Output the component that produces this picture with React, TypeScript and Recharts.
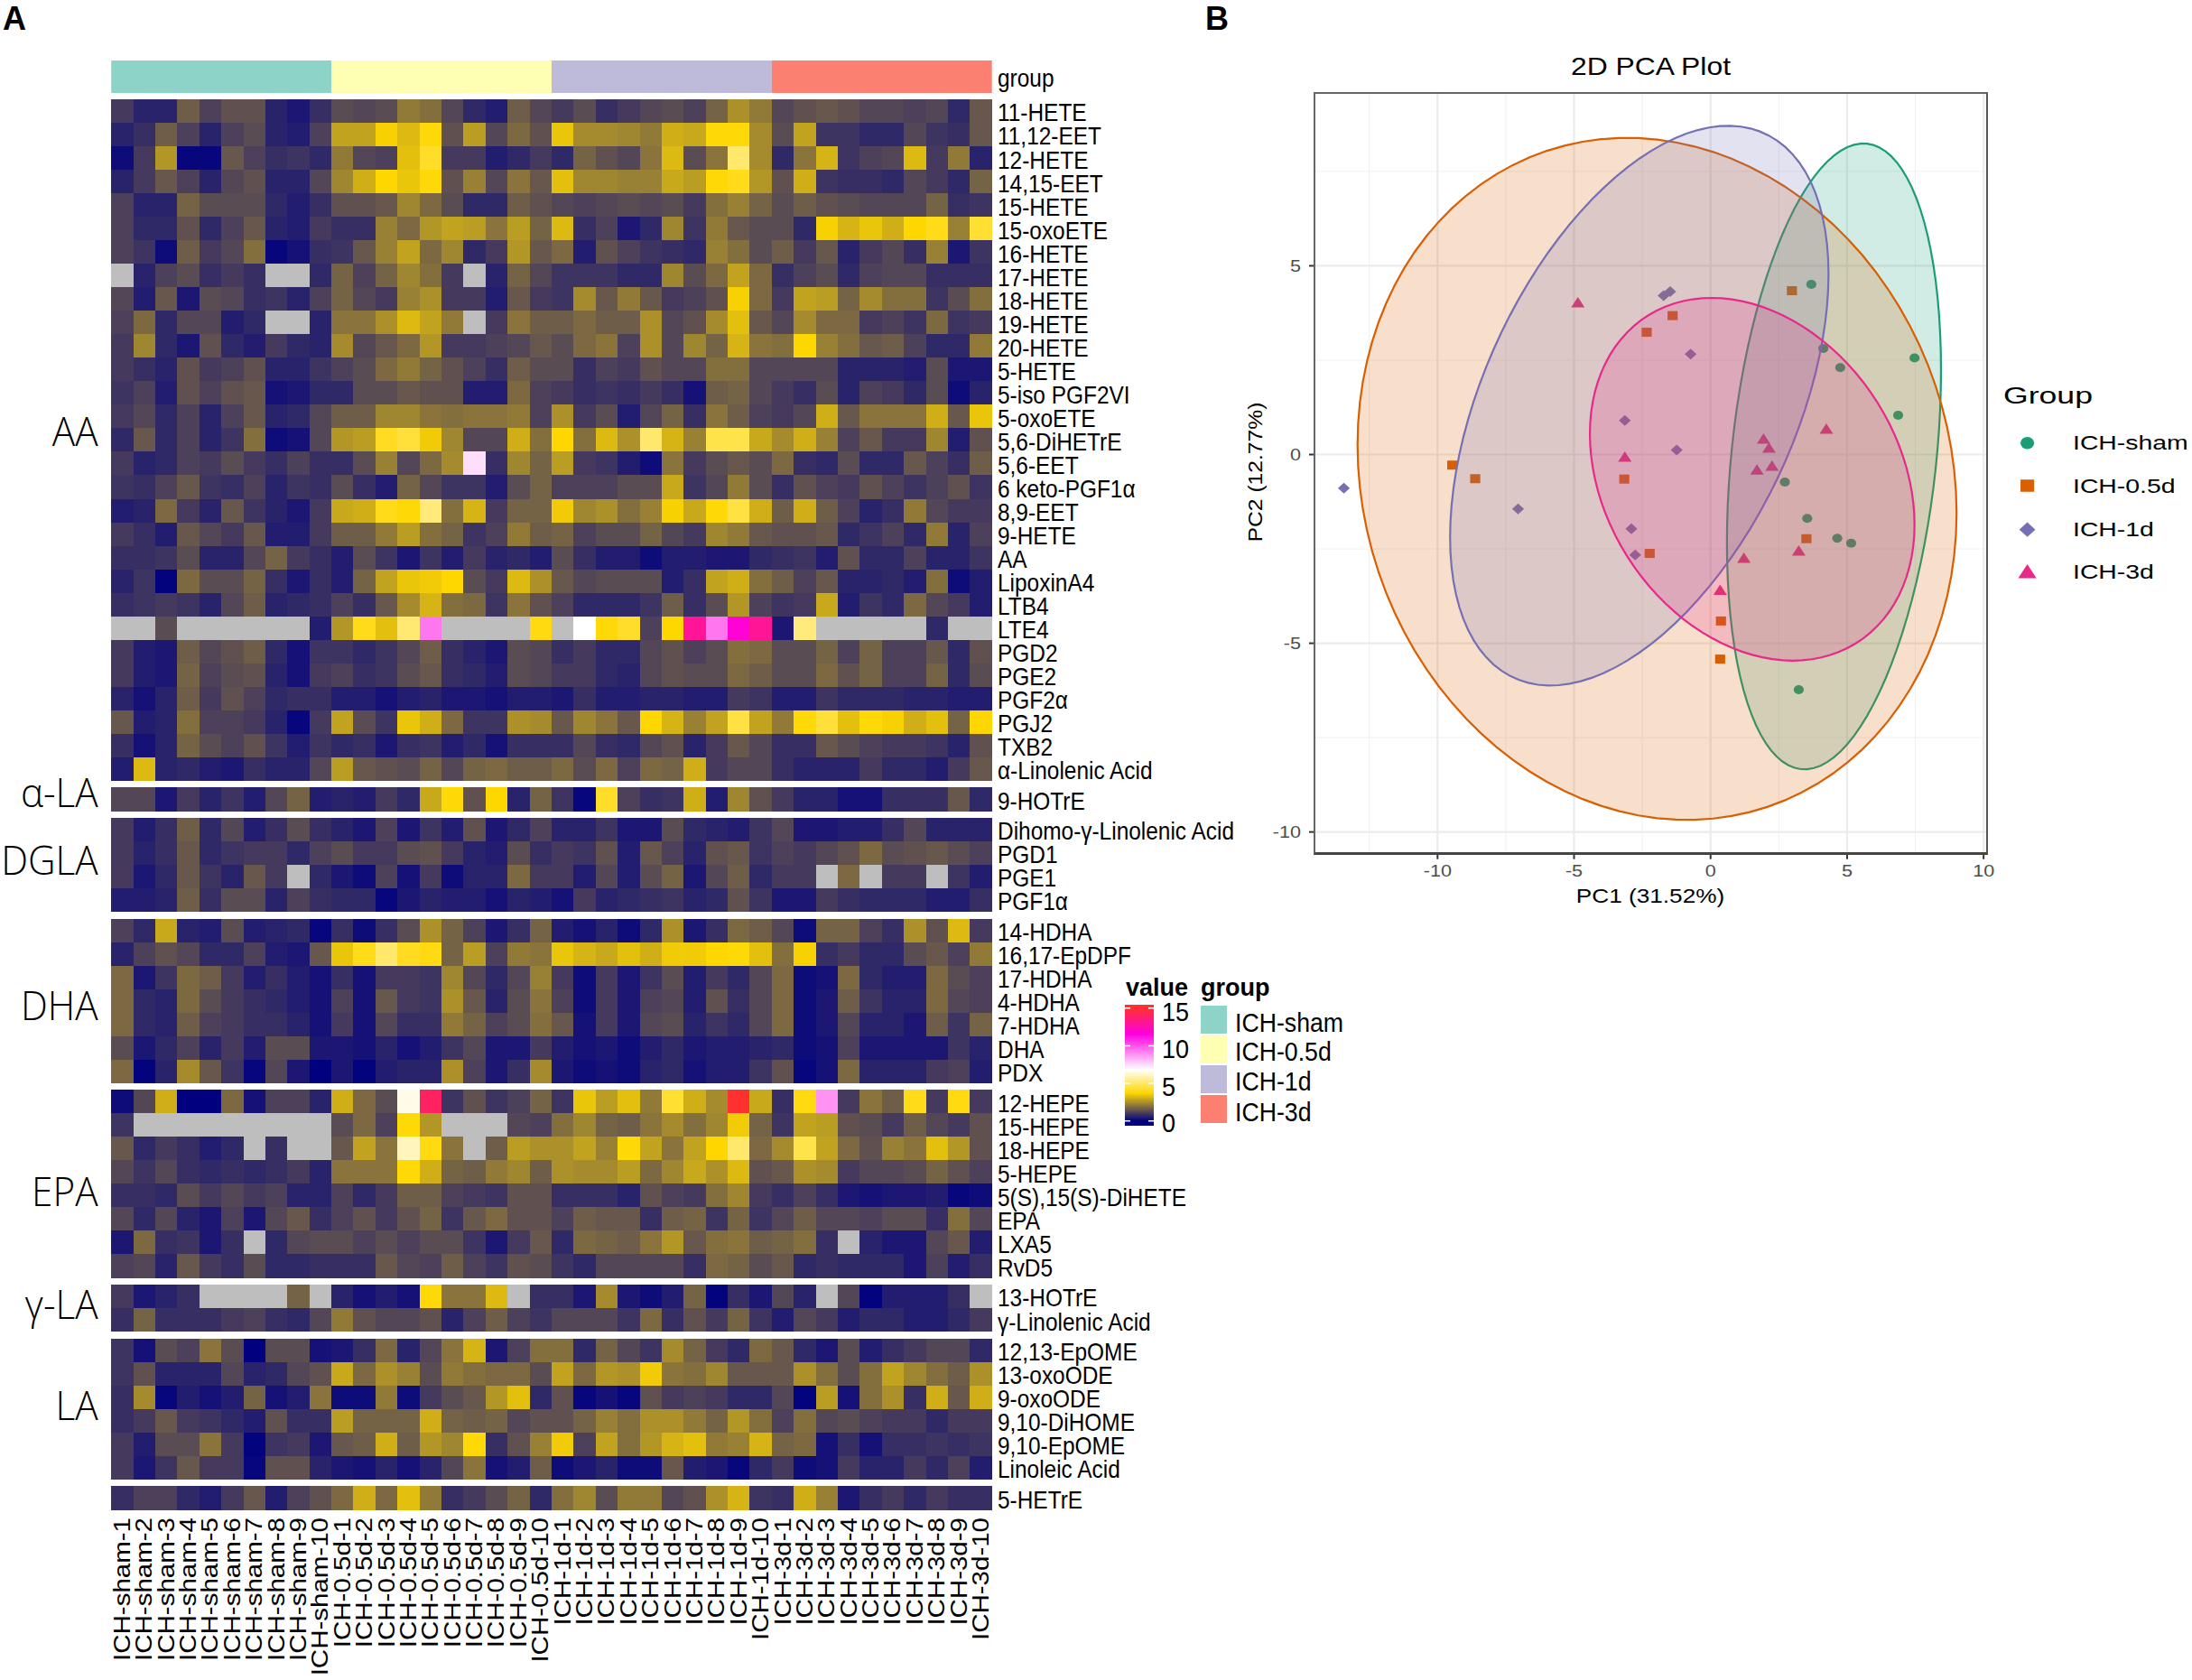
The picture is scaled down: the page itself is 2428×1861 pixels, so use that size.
import React from "react";
import {
  ScatterChart, Scatter, XAxis, YAxis, BarChart, Bar, CartesianGrid,
} from "recharts";

const N = null;
const sampleGroups = ["sham", "0.5d", "1d", "3d"];
const groupNames = ["ICH-sham", "ICH-0.5d", "ICH-1d", "ICH-3d"];
const groupColors = ["#8DD3C7", "#FFFFB3", "#BEBADA", "#FB8072"];
const sampleLabels = sampleGroups.flatMap((g) =>
  ["1", "2", "3", "4", "5", "6", "7", "8", "9", "10"].map((i) => `ICH-${g}-${i}`)
);

const aaLabels = ["11-HETE", "11,12-EET", "12-HETE", "14,15-EET", "15-HETE", "15-oxoETE", "16-HETE", "17-HETE", "18-HETE", "19-HETE", "20-HETE", "5-HETE", "5-iso PGF2VI", "5-oxoETE", "5,6-DiHETrE", "5,6-EET", "6 keto-PGF1α", "8,9-EET", "9-HETE", "AA", "LipoxinA4", "LTB4", "LTE4", "PGD2", "PGE2", "PGF2α", "PGJ2", "TXB2", "α-Linolenic Acid"];
const aaValues = [
  [1.0,.6,.6,1.6,1.1,1.4,1.4,.6,.4,.8,1.3,1.2,1.3,2.1,1.9,1.2,.7,.5,1.6,1.2,1.0,1.3,.8,1.0,1.2,1.3,1.1,1.7,2.5,2.1,1.2,1.4,1.5,1.4,1.2,1.2,1.1,1.2,.7,1.5],
  [.6,.8,1.6,1.1,.6,1.1,1.3,.6,.5,1.1,2.8,2.8,3.6,3.2,3.8,1.4,2.7,1.2,1.8,1.4,3.4,2.4,2.4,2.3,2.1,3.0,2.9,3.8,3.8,2.4,1.3,2.8,.9,.9,.7,.7,1.2,.9,.8,1.5],
  [.2,1.0,2.6,.1,.1,1.5,1.1,.8,.9,.7,2.1,1.2,1.1,3.3,4.2,1.0,1.0,.5,.7,1.0,.7,1.7,1.4,1.2,2.0,3.2,1.3,2.0,5.0,2.4,.7,2.0,3.1,.9,1.1,1.2,3.2,1.0,2.1,.6],
  [.6,1.0,1.5,1.1,.6,1.2,1.4,.6,.6,1.2,2.3,3.0,3.7,3.4,3.8,1.4,2.2,1.2,2.0,1.5,3.3,2.3,2.3,2.2,2.2,2.9,2.7,3.8,4.0,2.6,1.4,3.0,.9,.8,.8,.7,1.2,1.0,.7,1.7],
  [1.1,.6,.6,1.7,1.3,1.3,1.3,.7,.5,.8,1.4,1.4,1.5,2.3,1.8,1.3,.7,.7,1.6,1.4,1.2,1.1,1.2,1.3,1.2,1.3,1.0,1.9,2.2,1.7,1.3,1.6,1.4,1.3,1.2,1.2,1.2,1.7,.8,.9],
  [1.1,.7,.7,1.4,.7,1.1,1.5,.6,.5,1.0,.8,.8,2.2,1.8,2.6,2.8,2.7,2.0,2.7,1.7,3.2,.8,1.1,.4,.7,2.3,.9,2.1,1.5,1.3,1.3,.7,3.6,3.1,3.4,3.0,3.7,4.0,2.2,4.3],
  [1.1,.9,.2,1.6,1.0,1.2,1.9,.1,.3,.8,.9,1.5,2.2,2.8,1.8,2.3,.7,1.0,2.6,1.5,1.8,.5,1.4,1.1,.9,.8,.7,2.2,1.9,1.3,1.6,1.0,1.5,.6,1.0,1.2,.8,2.2,.4,.9],
  [N,.6,1.1,1.3,.8,1.0,.8,N,N,.7,1.7,1.1,1.7,2.3,1.9,1.0,N,.6,1.7,1.2,.9,.9,.9,.7,.7,2.3,1.3,1.8,2.8,1.8,.8,1.1,1.3,.7,1.1,1.2,1.2,.8,.8,.8],
  [1.2,.5,1.5,.4,1.3,1.2,.8,.9,.6,1.1,1.7,1.2,1.0,2.2,2.5,1.0,1.0,.5,1.5,1.0,.9,2.4,1.5,2.1,1.5,1.0,1.1,1.4,3.6,1.8,1.0,2.8,2.7,1.7,2.4,1.9,1.9,.9,1.3,1.9],
  [1.1,1.8,.7,1.2,1.2,.5,.7,N,N,.6,2.0,2.0,2.5,3.2,2.8,2.1,N,1.0,2.0,1.6,1.6,1.8,1.6,1.6,2.5,1.2,1.4,2.4,3.3,1.5,1.2,2.4,1.8,1.8,1.0,1.1,.9,1.8,.9,1.0],
  [1.0,2.3,.7,.4,1.4,.7,.5,1.0,.7,.6,2.4,1.2,1.5,1.8,2.6,1.0,1.0,1.1,1.2,1.5,1.3,1.8,2.0,1.1,2.5,1.2,2.3,1.7,3.1,2.0,1.9,3.7,2.2,1.9,1.5,1.6,1.1,.7,.7,2.1],
  [1.0,.8,.6,1.4,1.0,1.1,1.4,.6,.6,.9,1.1,1.3,1.8,2.1,1.7,1.4,1.1,.8,1.6,1.3,1.3,.8,1.1,1.0,1.4,1.2,1.2,1.9,1.9,1.2,1.2,1.2,1.2,.6,.6,.6,.5,1.3,.4,.4],
  [.9,1.1,.5,1.4,1.1,1.4,1.5,.3,.4,.7,.7,1.3,1.3,1.5,1.4,1.4,.5,.5,1.8,1.1,1.0,.8,.9,.8,1.0,.8,.3,1.6,1.7,1.2,1.0,.8,1.3,.6,1.1,1.0,.7,1.3,.2,.6],
  [1.0,1.2,.7,1.1,.6,1.1,1.5,.6,.7,1.2,1.6,1.6,2.3,2.3,2.0,1.9,2.0,2.0,2.1,1.1,2.5,1.0,1.3,.5,1.2,1.7,.8,2.0,1.6,1.1,1.0,1.2,3.0,1.5,2.0,2.0,2.0,3.0,1.5,3.4],
  [.7,1.5,.7,1.1,.6,.9,1.9,.2,.3,1.2,2.6,2.7,4.1,4.4,3.5,2.3,1.2,1.2,3.0,1.9,3.7,1.9,3.2,2.5,5.0,3.1,2.2,4.6,4.6,2.9,2.4,3.0,2.2,1.1,1.5,1.0,1.0,2.3,.5,1.4],
  [1.0,.6,.7,1.1,1.0,1.3,1.0,.8,1.1,.8,.8,1.3,2.2,1.2,1.8,2.4,7.4,.8,2.3,1.7,2.7,1.0,.9,.5,.2,2.0,1.0,1.3,1.5,1.3,1.8,.8,.7,1.3,.7,.7,1.5,1.1,.8,1.6],
  [.9,.8,1.1,1.5,.9,.8,1.1,.6,.9,.8,1.3,.8,.5,1.7,1.2,.9,.9,.5,1.3,1.7,1.1,1.1,1.1,1.3,1.3,2.9,.9,1.2,2.1,1.3,.8,1.4,1.1,1.0,1.4,1.1,.9,1.1,1.4,.9],
  [.5,.6,1.8,1.0,.6,1.5,.9,.6,.4,1.0,2.9,3.0,4.0,3.8,5.2,1.9,3.1,1.0,1.7,1.7,3.5,2.3,2.5,1.9,2.2,3.6,2.9,3.8,4.5,3.0,1.6,3.0,1.6,1.1,.6,.8,2.1,1.2,1.0,1.0],
  [1.0,.8,.5,1.5,1.2,1.0,1.5,.5,.5,1.0,1.6,1.6,2.1,2.7,1.9,1.7,.9,1.1,2.1,1.6,1.7,1.1,1.3,1.3,1.7,1.2,1.0,2.3,2.1,1.5,1.4,1.4,1.5,.7,.9,1.1,.7,2.1,.6,1.1],
  [.8,.8,.9,1.3,.6,.6,1.2,1.7,1.0,.8,.5,1.3,.9,.4,.9,.5,1.0,.6,.7,.5,1.3,.8,.5,.5,.2,.5,.5,.4,.4,.7,.8,.9,.5,1.4,.7,.7,1.1,.6,.6,.9],
  [.6,.9,.05,1.8,1.3,1.3,1.7,.8,.4,.8,.5,1.7,2.8,3.4,3.5,3.7,1.3,1.0,3.2,2.5,1.5,1.2,1.3,1.3,1.3,.5,.8,2.8,3.0,1.9,1.6,1.1,1.5,.6,.6,.7,.5,1.9,.2,.5],
  [.8,.9,1.0,.9,.6,1.2,1.6,.6,.7,.8,1.1,.8,1.5,2.4,3.1,1.9,1.8,.9,2.0,1.4,1.1,.7,.7,.7,.9,1.6,.8,1.3,2.6,1.1,.9,1.0,2.9,.5,.9,.7,1.8,1.2,1.0,.5],
  [N,N,1.3,N,N,N,N,N,N,.5,2.6,4.0,3.3,5.1,9.3,N,N,N,N,3.9,N,6.8,3.8,4.2,1.1,3.7,13,9.3,11.7,13,.4,5.2,N,N,N,N,N,.7,N,N],
  [1.0,.5,.4,1.6,1.2,1.4,1.6,.7,.3,.9,.9,.7,.9,1.2,1.6,.8,.6,.4,1.3,1.2,.8,1.0,.7,.7,1.2,1.4,1.1,1.3,1.9,1.8,1.3,1.3,1.7,1.1,1.7,1.1,1.1,1.5,.7,1.4],
  [1.0,.5,.4,1.7,1.1,1.3,1.4,.6,.3,1.0,1.1,.8,.9,1.3,1.5,.8,.7,.5,1.3,1.2,1.0,1.0,.7,.6,1.2,1.4,1.3,1.3,1.8,1.6,1.3,1.3,1.8,1.4,1.7,1.1,1.1,1.7,.7,1.3],
  [.6,.3,.6,1.6,1.0,1.4,1.1,.7,.8,.8,.5,.5,.3,.5,.6,.4,.4,.3,.5,.5,.4,.8,.5,.5,.6,.6,.5,.5,1.0,.9,.5,.5,.9,.7,.7,.7,.6,.6,.5,.5],
  [1.5,.5,.6,1.9,1.1,1.1,1.0,.6,.1,1.0,2.8,1.3,.9,3.4,3.0,1.8,.9,.9,2.5,2.4,1.5,2.3,2.0,1.5,3.7,3.1,2.2,2.8,4.5,2.8,2.1,3.8,4.4,3.3,3.8,3.6,3.0,3.3,1.7,3.7],
  [.8,.3,.6,1.7,1.3,1.1,1.4,.9,.5,.9,.7,.8,.4,.8,.9,.5,.7,.3,.8,.8,.8,1.2,.8,.7,1.2,1.4,.6,1.0,1.5,1.2,.8,.8,1.5,1.3,1.1,1.0,1.0,.9,.6,1.4],
  [.5,3.2,.6,.7,.5,.4,.8,.6,.6,1.2,2.7,1.5,1.4,1.3,1.7,1.2,1.7,1.8,1.6,1.6,1.8,1.3,1.8,1.1,1.8,1.7,3.0,1.0,1.2,1.2,.8,.6,.6,.6,1.0,.7,.7,.5,1.0,1.5],
];

const alaLabels = ["9-HOTrE"];
const alaValues = [
  [1.2,1.2,.4,1.0,.6,.9,.5,1.2,1.7,.5,.6,.5,1.0,.7,2.9,3.8,1.4,3.7,.6,1.7,.9,.1,4.2,1.1,.8,.9,3.0,.5,2.3,1.4,1.0,.6,.6,.3,.3,.8,.8,.8,1.5,.7],
];

const dglaLabels = ["Dihomo-γ-Linolenic Acid", "PGD1", "PGE1", "PGF1α"];
const dglaValues = [
  [1.0,.5,.8,1.6,.7,1.2,.5,.8,1.3,.8,.6,.4,1.1,.4,.9,.5,1.4,.4,.7,1.1,.6,.6,.9,.4,.4,1.3,.7,.6,.5,.9,1.2,.4,.4,.5,.5,.8,1.2,.6,.6,.6],
  [1.0,.6,.8,1.5,.7,.9,1.0,1.0,.7,1.1,1.3,1.0,1.0,1.3,1.4,1.0,.6,.5,1.3,.8,1.0,.9,1.4,.5,1.5,1.1,.6,1.4,1.5,.9,1.1,1.0,1.2,1.4,1.8,1.3,1.4,1.5,1.3,1.1],
  [1.0,.4,.7,1.5,.9,.6,1.5,1.0,N,.7,.4,.2,1.1,.3,1.0,.2,.6,.6,1.8,1.0,1.0,.5,1.2,.5,1.3,1.7,.4,1.2,1.6,.7,1.0,1.0,N,1.8,N,1.0,1.0,N,.9,.5],
  [.5,.5,.6,1.6,.8,1.3,1.3,.6,1.1,.8,.7,.7,.1,.4,.6,.5,.5,.3,.6,.5,.3,1.0,.6,.7,.8,.9,.6,.7,1.4,.9,.4,.4,1.0,.8,.7,.7,.7,.5,.5,.8],
];

const dhaLabels = ["14-HDHA", "16,17-EpDPF", "17-HDHA", "4-HDHA", "7-HDHA", "DHA", "PDX"];
const dhaValues = [
  [1.1,.7,2.9,.6,.5,1.3,.5,.6,.7,.1,.8,.2,.8,1.3,2.5,1.7,1.1,.4,.8,1.7,.5,.3,.6,.2,.7,2.5,.4,.8,1.8,1.6,1.2,.2,1.7,1.7,1.1,.8,2.5,1.4,3.2,1.0],
  [.6,1.1,1.4,1.2,.7,.7,1.1,.5,.4,1.5,3.4,4.0,5.0,4.1,3.9,1.7,2.7,1.1,2.1,2.0,3.4,3.1,2.9,3.3,3.0,3.5,3.5,3.7,3.8,3.3,1.9,3.6,.8,1.0,.7,.7,1.3,1.5,1.1,2.1],
  [1.8,.4,.9,1.8,1.6,1.0,.5,.8,.5,.3,.8,.3,1.0,1.0,.9,2.3,1.2,.7,1.2,2.2,1.0,.2,1.0,.4,.9,1.3,.5,1.0,.7,1.2,1.8,.2,.3,1.8,.7,.5,.5,1.8,1.3,1.1],
  [1.8,.7,.6,1.8,1.3,1.0,.8,.7,.5,.3,1.1,.3,1.5,1.0,.9,2.5,1.5,.6,1.3,2.0,1.1,.2,1.0,.4,1.1,1.2,.5,1.4,.8,1.2,1.8,.2,.4,1.6,.9,.6,.6,1.8,1.2,1.1],
  [1.8,.7,.6,1.6,1.1,1.0,.8,.8,.6,.3,1.0,.3,1.2,.8,.8,2.1,1.7,1.1,1.3,1.9,1.5,.3,1.0,.4,1.2,1.3,.6,.9,.7,1.2,1.8,.2,.4,1.2,.6,.6,.4,1.6,.9,1.7],
  [1.3,.4,.7,1.1,.6,1.0,.5,1.3,1.3,.4,.4,.3,.6,.3,.5,.9,1.2,.4,.4,1.0,.5,.3,.4,.2,.5,.7,.4,.5,.5,.6,.7,.2,.3,1.1,.4,.4,.4,.4,.9,.6],
  [1.8,.05,.6,2.4,1.5,.9,.1,1.2,.4,.02,.4,.05,.5,.6,.6,2.5,1.1,.4,.8,2.4,.4,.2,.3,.2,.6,.7,.3,.5,.5,.9,1.4,.1,.3,1.8,.6,.6,.6,1.0,1.1,.5],
];

const epaLabels = ["12-HEPE", "15-HEPE", "18-HEPE", "5-HEPE", "5(S),15(S)-DiHETE", "EPA", "LXA5", "RvD5"];
const epaValues = [
  [.2,1.2,3.0,.02,.02,1.8,.3,1.1,1.1,.6,3.0,1.8,1.3,6.5,14,.9,1.4,.9,1.1,1.7,.9,3.4,2.7,3.3,2.1,4.3,3.0,2.4,15,2.9,.8,3.9,8.8,1.0,2.0,1.6,4.0,1.0,3.9,1.0],
  [.9,N,N,N,N,N,N,N,N,N,1.3,1.8,1.1,3.8,2.6,N,N,N,1.2,1.1,1.9,2.3,1.7,1.6,2.0,2.4,1.9,2.3,3.5,1.7,.9,2.8,2.7,1.4,1.3,1.0,1.6,1.2,1.0,1.4],
  [1.5,.7,1.0,.8,.5,.7,N,.8,N,N,1.5,2.8,2.0,6.0,3.9,2.0,N,1.6,2.7,2.5,2.5,2.8,2.2,3.8,2.8,2.0,2.8,3.7,5.0,1.8,2.4,4.6,2.8,1.8,1.4,2.2,2.0,3.3,2.6,1.4],
  [1.2,.9,1.2,.8,.7,.8,.7,.8,1.0,.6,2.0,2.0,2.0,3.8,3.0,1.7,1.6,2.1,2.3,1.6,2.5,2.4,2.4,2.7,1.8,2.3,2.9,2.5,3.2,1.4,1.5,2.5,2.4,1.0,1.2,1.2,1.3,1.7,1.4,1.1],
  [.8,.8,.7,1.3,1.0,1.2,1.0,1.1,.6,.6,1.1,.7,1.0,1.6,1.6,1.1,1.0,.9,1.4,1.4,.8,.8,.8,.6,1.4,1.1,1.0,1.9,2.3,1.0,.8,1.1,.8,.4,.3,.4,.4,.5,.1,.2],
  [1.2,.7,1.2,.6,.4,1.1,.4,1.2,1.5,.8,1.1,1.4,1.0,1.4,1.7,.9,1.5,1.8,1.4,1.4,1.1,1.6,1.5,1.5,.8,1.6,1.7,.9,1.7,.9,1.2,1.6,1.2,1.2,1.1,1.3,1.3,.8,1.9,1.2],
  [.4,1.8,.8,.9,.4,.8,N,.7,1.2,1.3,1.3,1.1,1.3,1.1,1.3,1.3,.9,.4,1.0,1.5,.7,1.8,1.7,1.6,2.0,2.6,1.5,1.9,2.0,1.6,1.7,1.9,.8,N,.6,.4,.4,1.2,1.5,.5],
  [1.1,1.2,.6,1.5,1.0,.8,1.3,.7,.7,.8,.8,.8,1.5,1.2,1.1,1.6,1.1,.9,1.4,1.3,.9,.7,1.2,1.2,1.2,1.2,.8,1.8,1.7,1.3,1.5,.7,.8,.7,.7,.7,.4,1.1,.5,.8],
];

const glaLabels = ["13-HOTrE", "γ-Linolenic Acid"];
const glaValues = [
  [1.0,.4,.6,.8,N,N,N,N,1.7,N,.6,.3,.5,.3,3.8,2.0,2.0,3.2,N,.8,.8,.4,2.4,.4,.2,.5,1.7,.05,.8,.4,1.2,.6,N,1.2,.05,.5,.5,.5,.8,N],
  [.8,1.7,.8,.8,.8,1.0,1.1,.8,.7,1.2,2.1,1.4,1.2,1.2,1.4,.6,1.1,1.6,1.1,.9,1.2,1.2,1.2,.9,1.8,.8,1.4,1.0,1.7,.9,.5,1.2,1.0,.5,.7,.7,.5,.5,.7,1.0],
];

const laLabels = ["12,13-EpOME", "13-oxoODE", "9-oxoODE", "9,10-DiHOME", "9,10-EpOME", "Linoleic Acid"];
const laValues = [
  [.9,.3,1.3,1.1,2.0,1.3,.02,1.3,1.3,.3,.4,.8,1.8,.6,1.2,2.0,3.1,.4,1.1,1.9,1.9,.7,1.7,1.2,.9,2.4,1.7,1.0,.7,1.8,1.5,.7,.4,1.3,.5,.8,1.0,1.2,1.2,.7],
  [.9,1.4,.6,.6,.6,1.2,.6,.7,1.2,1.4,2.9,1.8,2.5,2.2,1.3,2.1,1.9,1.8,1.8,1.3,2.8,1.8,2.6,2.5,3.5,2.0,1.9,2.3,1.5,1.5,1.5,2.5,1.9,1.3,1.9,2.8,2.3,1.9,1.6,2.5],
  [.8,2.4,.1,.5,.3,.5,1.7,.3,.5,2.0,.2,.2,2.1,.2,1.0,1.3,1.5,2.6,3.3,.7,1.4,.1,.3,.1,1.4,1.0,1.1,1.0,.7,.7,1.2,.05,2.7,.3,1.9,2.5,.8,3.0,1.5,3.0],
  [.8,1.0,1.5,1.0,.9,.7,.5,1.4,.8,.8,2.7,1.7,1.7,1.7,3.0,1.7,1.6,1.7,1.2,1.4,1.4,1.7,2.2,1.9,2.5,2.5,2.1,1.7,2.6,1.9,1.1,1.9,1.2,1.3,1.1,1.0,1.0,.7,1.0,1.0],
  [1.0,.5,1.3,1.3,2.0,1.0,.05,.9,1.0,.4,1.5,1.6,3.0,1.6,2.6,2.3,3.8,.8,1.4,2.2,3.5,1.1,2.8,1.9,2.6,3.1,3.3,2.1,2.2,3.1,1.7,1.8,.3,.8,.3,.8,.8,.9,.8,.9],
  [1.0,.4,.9,1.5,1.0,1.0,.1,1.4,1.4,.6,.4,.3,.6,.3,.6,1.2,2.0,.3,.5,1.6,.2,.4,.6,.2,.2,1.5,.5,.4,.1,.7,1.0,.2,.3,1.0,.6,.6,1.0,.7,1.1,.5],
];

const hetreLabels = ["5-HETrE"];
const hetreValues = [
  [.8,1.1,1.1,.7,.5,1.0,1.5,.5,1.1,1.4,1.8,3.0,1.8,3.3,2.1,.8,1.0,1.3,1.7,.7,1.9,2.3,1.3,2.1,2.1,1.2,1.4,2.5,3.1,.9,.8,3.0,2.2,.4,.8,1.0,.7,1.0,.8,.8],
];

const blockLabels = [aaLabels, alaLabels, dglaLabels, dhaLabels, epaLabels, glaLabels, laLabels, hetreLabels];
const blockValues = [aaValues, alaValues, dglaValues, dhaValues, epaValues, glaValues, laValues, hetreValues];

const blockTitles = ["AA", "α-LA", "DGLA", "DHA", "EPA", "γ-LA", "LA"];
const blockTitleY = [477, 877, 952, 1113, 1319, 1444, 1556];

// value -> colour
const rampStops: [number, number[]][] = [
  [0, [0, 0, 128]],
  [3.7, [255, 215, 0]],
  [6.8, [255, 255, 255]],
  [11.5, [255, 0, 224]],
  [15, [255, 48, 48]],
];
function ramp(v: number) {
  for (let i = 1; i < rampStops.length; i++) {
    if (v <= rampStops[i][0]) {
      const [a, ca] = rampStops[i - 1];
      const [b, cb] = rampStops[i];
      const t = (v - a) / (b - a);
      return `rgb(${ca.map((c, k) => Math.round(c + (cb[k] - c) * t)).join(",")})`;
    }
  }
  return "rgb(255,48,48)";
}

// heat table
const GAP = 7.5 / 26.03;
const rowLabels: string[] = [];
const rowCenters: number[] = [];
const cells: { x: number; y: number; value: number | null }[] = [];
{
  let pos = 0;
  blockValues.forEach((rows, b) => {
    rows.forEach((vals, r) => {
      const y = pos + 0.5;
      rowLabels.push(blockLabels[b][r]);
      rowCenters.push(y);
      vals.forEach((value, c) => cells.push({ x: c + 0.5, y, value }));
      pos += 1;
    });
    pos += GAP;
  });
}
const totalUnits = rowCenters[rowCenters.length - 1] + 0.5;
const columnCenters = sampleLabels.map((_, i) => i + 0.5);

const HX0 = 123.2, HX1 = 1098.7, HY0 = 110, HY1 = 1672.3;
const CW = (HX1 - HX0) / 40;
const CH = (HY1 - HY0) / totalUnits;
const ARIAL = "'Liberation Sans', Arial, sans-serif";

function HeatCell(p: any) {
  const v = p.payload.value;
  return (
    <rect
      x={p.cx - CW / 2}
      y={p.cy - CH / 2}
      width={CW + 0.4}
      height={CH + 0.4}
      fill={v === null ? "#BEBEBE" : ramp(v)}
      shapeRendering="crispEdges"
    />
  );
}
function RowTick(p: any) {
  return (
    <text
      transform={`translate(1105,${p.y + 2}) scale(0.905,1)`}
      dominantBaseline="central"
      fontFamily={ARIAL}
      fontSize={27}
      fill="#000"
    >
      {rowLabels[p.index]}
    </text>
  );
}
function ColTick(p: any) {
  return (
    <text
      transform={`translate(${p.x + 8.5},1681) rotate(-90) scale(1.18,1)`}
      textAnchor="end"
      fontFamily={ARIAL}
      fontSize={25}
      fill="#000"
    >
      {sampleLabels[p.index]}
    </text>
  );
}

// PCA
const shamPoints = [
  { x: 3.69, y: 4.51 }, { x: 4.13, y: 2.81 }, { x: 4.75, y: 2.3 }, { x: 7.47, y: 2.56 }, { x: 6.87, y: 1.04 },
  { x: 2.72, y: -0.73 }, { x: 3.54, y: -1.69 }, { x: 4.64, y: -2.22 }, { x: 5.15, y: -2.35 }, { x: 3.23, y: -6.23 },
];
const halfDayPoints = [
  { x: 2.98, y: 4.34 }, { x: -1.39, y: 3.68 }, { x: -2.34, y: 3.24 }, { x: -9.46, y: -0.28 }, { x: -8.62, y: -0.64 },
  { x: -3.16, y: -0.65 }, { x: -2.23, y: -2.62 }, { x: 3.51, y: -2.23 }, { x: 0.38, y: -4.41 }, { x: 0.35, y: -5.42 },
];
const oneDayPoints = [
  { x: -1.48, y: 4.32 }, { x: -1.72, y: 4.21 }, { x: -0.73, y: 2.66 }, { x: -3.14, y: 0.9 }, { x: -1.24, y: 0.12 },
  { x: -13.43, y: -0.89 }, { x: -7.05, y: -1.44 }, { x: -2.9, y: -1.97 }, { x: -2.76, y: -2.66 },
];
const threeDayPoints = [
  { x: -4.86, y: 4.03 }, { x: 4.24, y: 0.68 }, { x: 1.94, y: 0.42 }, { x: 2.14, y: 0.18 }, { x: -3.14, y: -0.06 },
  { x: 1.7, y: -0.4 }, { x: 2.25, y: -0.3 }, { x: 3.23, y: -2.55 }, { x: 1.22, y: -2.74 }, { x: 0.35, y: -3.59 },
];
const pcaColors = ["#1B9E77", "#D95F02", "#7570B3", "#E7298A"];
// ellipse: centre, half extents along each axis, correlation
const ellipseSham = [{ x: 4.52, y: -0.05, xr: 3.92, yr: 8.29, rho: 0.275 }];
const ellipseHalfDay = [{ x: -1.96, y: -0.645, xr: 10.97, yr: 9.035, rho: -0.1 }];
const ellipseOneDay = [{ x: -2.61, y: 1.295, xr: 6.93, yr: 7.415, rho: 0.47 }];
const ellipseThreeDay = [{ x: 1.525, y: -0.655, xr: 5.945, yr: 4.805, rho: -0.25 }];

const PX0 = 1455, PX1 = 2202, PY0 = 101.7, PY1 = 946.7;
const xDomain = [-14.54, 10.16];
const yDomain = [-10.6, 9.61];
const xTicks = [-10, -5, 0, 5, 10];
const yTicks = [-10, -5, 0, 5];
const xMinor = [-12.5, -7.5, -2.5, 2.5, 7.5];
const yMinor = [-7.5, -2.5, 2.5, 7.5];
const SX = (PX1 - PX0) / (xDomain[1] - xDomain[0]);
const SY = (PY1 - PY0) / (yDomain[1] - yDomain[0]);

function ellipseShape(color: string) {
  return (p: any) => {
    const { xr, yr, rho } = p.payload;
    const phi = Math.acos(rho);
    const pts: string[] = [];
    for (let i = 0; i < 100; i++) {
      const t = (i / 100) * 2 * Math.PI;
      pts.push(`${p.cx + xr * SX * Math.cos(t)},${p.cy - yr * SY * Math.cos(t - phi)}`);
    }
    return <polygon points={pts.join(" ")} fill={color} fillOpacity={0.2} stroke={color} strokeWidth={2.2} />;
  };
}
function Marker({ kind, cx, cy, color, k = 1 }: any) {
  if (kind === 0) return <ellipse cx={cx} cy={cy} rx={5.6 * k} ry={5 * k} fill={color} />;
  if (kind === 1) return <rect x={cx - 5.6 * k} y={cy - 5 * k} width={11.2 * k} height={10 * k} fill={color} />;
  if (kind === 2) return <polygon points={`${cx},${cy - 6 * k} ${cx + 6.6 * k},${cy} ${cx},${cy + 6 * k} ${cx - 6.6 * k},${cy}`} fill={color} />;
  return <polygon points={`${cx},${cy - 6 * k} ${cx + 7.5 * k},${cy + 5.5 * k} ${cx - 7.5 * k},${cy + 5.5 * k}`} fill={color} />;
}
const pointShape = (kind: number) => (p: any) => <Marker kind={kind} cx={p.cx} cy={p.cy} color={pcaColors[kind]} />;

function PcaXTick(p: any) {
  return (
    <text transform={`translate(${p.x},965) scale(1.2,1)`} textAnchor="middle" dominantBaseline="central" fontFamily={ARIAL} fontSize={18} fill="#4D4D4D">
      {p.payload.value}
    </text>
  );
}
function PcaYTick(p: any) {
  return (
    <text transform={`translate(1441,${p.y}) scale(1.2,1)`} textAnchor="end" dominantBaseline="central" fontFamily={ARIAL} fontSize={18} fill="#4D4D4D">
      {p.payload.value}
    </text>
  );
}

function T({ x, y, children, size = 27, anchor = "start", weight = 400, sx = 1, rotate = 0, family = ARIAL, fill = "#000" }: any) {
  return (
    <text
      transform={`translate(${x},${y}) rotate(${rotate}) scale(${sx},1)`}
      textAnchor={anchor}
      dominantBaseline="central"
      fontSize={size}
      fontWeight={weight}
      fontFamily={family}
      fill={fill}
    >
      {children}
    </text>
  );
}

const barMin = -0.64, barMax = 15.4;
const valueTicks = [15, 10, 5, 0];
const valueTickY = [1120, 1161.7, 1203, 1243];
const valueDashY = [1116.7, 1158.5, 1200, 1241.7];
const groupSwatchY = [1114, 1146.7, 1180, 1213];
const groupLabelY = [1133, 1165, 1198, 1232];
const pcaLegendY = [490.7, 538, 586.7, 633];
const groupBarRow = [{ name: "group", sham: 10, d05: 10, d1: 10, d3: 10 }];

export default function App() {
  return (
    <div style={{ position: "absolute", left: 0, top: 0, width: 2428, height: 1861, background: "#fff", overflow: "hidden" }}>
      <div style={{ position: "absolute", left: 0, top: 0 }}>
        <BarChart
          width={1500}
          height={150}
          layout="vertical"
          data={groupBarRow}
          barCategoryGap={0}
          margin={{ left: HX0, right: 1500 - HX1, top: 67, bottom: 150 - 103.3 }}
        >
          <XAxis type="number" domain={[0, 40]} hide />
          <YAxis type="category" dataKey="name" hide />
          <Bar dataKey="sham" stackId="g" fill={groupColors[0]} isAnimationActive={false} />
          <Bar dataKey="d05" stackId="g" fill={groupColors[1]} isAnimationActive={false} />
          <Bar dataKey="d1" stackId="g" fill={groupColors[2]} isAnimationActive={false} />
          <Bar dataKey="d3" stackId="g" fill={groupColors[3]} isAnimationActive={false} />
        </BarChart>
      </div>

      <div style={{ position: "absolute", left: 0, top: 0 }}>
        <ScatterChart
          width={1500}
          height={1861}
          margin={{ left: HX0, right: 1500 - HX1 - 300, top: HY0, bottom: 1861 - HY1 - 170 }}
        >
          <XAxis
            type="number"
            dataKey="x"
            domain={[0, 40]}
            ticks={columnCenters}
            interval={0}
            height={170}
            axisLine={false}
            tickLine={false}
            tick={ColTick}
          />
          <YAxis
            type="number"
            dataKey="y"
            orientation="right"
            reversed
            domain={[0, totalUnits]}
            ticks={rowCenters}
            interval={0}
            width={300}
            axisLine={false}
            tickLine={false}
            tick={RowTick}
          />
          <Scatter data={cells} shape={HeatCell} isAnimationActive={false} />
        </ScatterChart>
      </div>

      <div style={{ position: "absolute", left: 0, top: 0 }}>
        <ScatterChart
          width={2428}
          height={1100}
          margin={{ left: PX0 - 80, right: 2428 - PX1, top: PY0, bottom: 1100 - PY1 - 60 }}
        >
          <CartesianGrid horizontalValues={yMinor} verticalValues={xMinor} stroke="#f0f0f0" strokeWidth={1} />
          <CartesianGrid horizontalValues={yTicks} verticalValues={xTicks} stroke="#ebebeb" strokeWidth={2.2} />
          <XAxis
            type="number"
            dataKey="x"
            domain={xDomain}
            ticks={xTicks}
            interval={0}
            height={60}
            axisLine={false}
            tickLine={{ stroke: "#333", strokeWidth: 2 }}
            tickSize={5}
            tick={PcaXTick}
            allowDataOverflow
          />
          <YAxis
            type="number"
            dataKey="y"
            domain={yDomain}
            ticks={yTicks}
            interval={0}
            width={80}
            axisLine={false}
            tickLine={{ stroke: "#333", strokeWidth: 2 }}
            tickSize={5}
            tick={PcaYTick}
            allowDataOverflow
          />
          <Scatter data={shamPoints} shape={pointShape(0)} isAnimationActive={false} />
          <Scatter data={halfDayPoints} shape={pointShape(1)} isAnimationActive={false} />
          <Scatter data={oneDayPoints} shape={pointShape(2)} isAnimationActive={false} />
          <Scatter data={threeDayPoints} shape={pointShape(3)} isAnimationActive={false} />
          <Scatter data={ellipseSham} shape={ellipseShape(pcaColors[0])} isAnimationActive={false} />
          <Scatter data={ellipseHalfDay} shape={ellipseShape(pcaColors[1])} isAnimationActive={false} />
          <Scatter data={ellipseOneDay} shape={ellipseShape(pcaColors[2])} isAnimationActive={false} />
          <Scatter data={ellipseThreeDay} shape={ellipseShape(pcaColors[3])} isAnimationActive={false} />
        </ScatterChart>
      </div>

      <div
        style={{
          position: "absolute",
          left: PX0,
          top: PY0,
          width: PX1 - PX0,
          height: PY1 - PY0,
          boxSizing: "border-box",
          borderTop: "2px solid #666",
          borderRight: "2.5px solid #555",
          borderLeft: "2px solid #666",
          borderBottom: "3px solid #444",
          pointerEvents: "none",
        }}
      />

      <svg width={2428} height={1861} style={{ position: "absolute", left: 0, top: 0, pointerEvents: "none" }}>
        <defs>
          <linearGradient id="valueBar" x1="0" y1="0" x2="0" y2="1">
            {rampStops.map(([v]) => (
              <stop key={v} offset={(barMax - v) / (barMax - barMin)} stopColor={ramp(v)} />
            )).reverse()}
          </linearGradient>
        </defs>

        <T x={1105} y={87} size={27} sx={0.905}>group</T>
        <T x={3} y={20} size={36} weight={700}>A</T>
        <T x={1335} y={20} size={36} weight={700}>B</T>

        {blockTitles.map((t, i) => (
          <T key={t} x={108.5} y={blockTitleY[i]} size={44} sx={0.96} anchor="end" family="'Open Sans', sans-serif" weight={300}>{t}</T>
        ))}

        <T x={1247} y={1094} weight={700} size={27}>value</T>
        <T x={1330} y={1094} weight={700} size={27}>group</T>
        <rect x={1246} y={1113} width={32} height={134} fill="url(#valueBar)" />
        {valueDashY.map((y) => (
          <g key={y}>
            <line x1={1246} x2={1252} y1={y} y2={y} stroke="#fff" strokeWidth={1.5} />
            <line x1={1272} x2={1278} y1={y} y2={y} stroke="#fff" strokeWidth={1.5} />
          </g>
        ))}
        {valueTicks.map((v, i) => (
          <T key={v} x={1287} y={valueTickY[i]} size={30} sx={0.9}>{v}</T>
        ))}
        {groupNames.map((g, i) => (
          <g key={g}>
            <rect x={1330} y={groupSwatchY[i]} width={29} height={31} fill={groupColors[i]} />
            <T x={1368} y={groupLabelY[i]} size={29} sx={0.92}>{g}</T>
          </g>
        ))}

        <T x={1828.5} y={73} size={27} sx={1.18} anchor="middle">2D PCA Plot</T>
        <T x={1828} y={992} size={22} sx={1.19} anchor="middle">PC1 (31.52%)</T>
        <T x={1390} y={523} size={22} sx={1.12} anchor="middle" rotate={-90}>PC2 (12.77%)</T>
        <T x={2219} y={438} size={26} sx={1.37}>Group</T>
        {groupNames.map((g, i) => (
          <g key={g}>
            <Marker kind={i} cx={2245.6} cy={pcaLegendY[i]} color={pcaColors[i]} k={1.35} />
            <T x={2296} y={pcaLegendY[i]} size={22} sx={1.29}>{g}</T>
          </g>
        ))}
      </svg>
    </div>
  );
}
